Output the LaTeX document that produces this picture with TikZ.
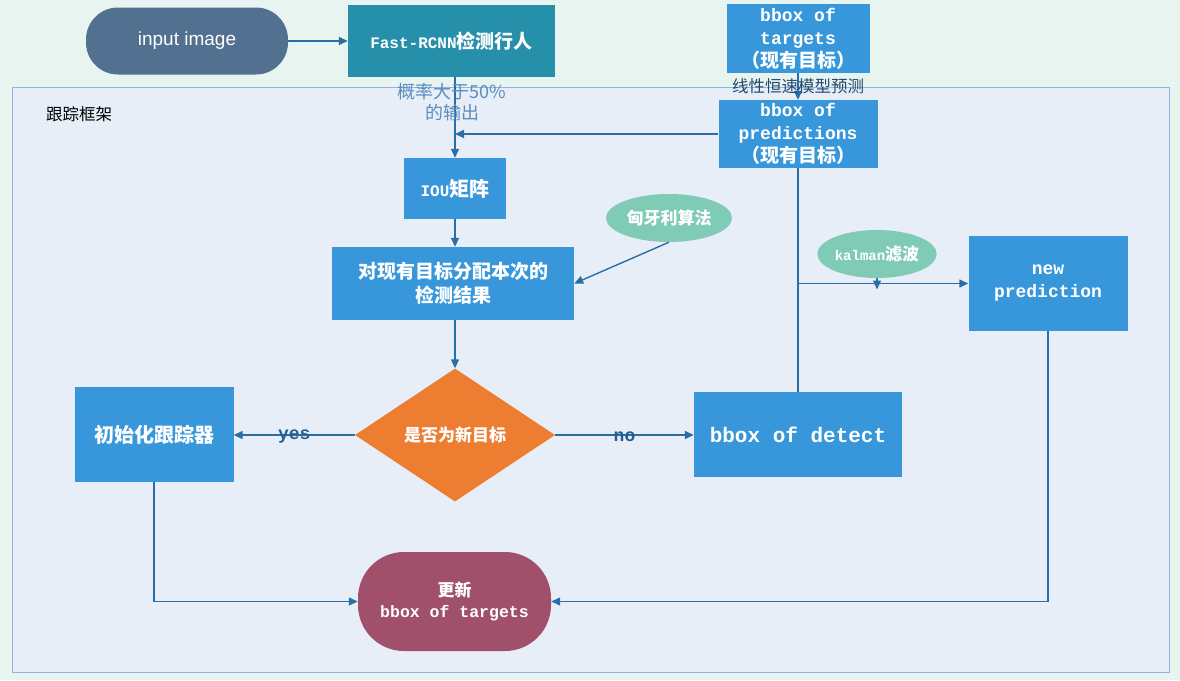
\documentclass[tikz,border=0pt]{standalone}
\usepackage{fontspec}
\newfontfamily\cjk{Noto Sans CJK SC}
\newfontfamily\mono{Liberation Mono}
\newfontfamily\sans{Liberation Sans}
\usetikzlibrary{shapes.geometric, arrows.meta, positioning}

\definecolor{outerbg}{HTML}{E8F4F0}
\definecolor{innerbg}{HTML}{E8EEF8}
\definecolor{framec}{HTML}{8DB6E0}
\definecolor{linec}{HTML}{2A6EA6}
\definecolor{boxblue}{HTML}{3797DA}
\definecolor{fastc}{HTML}{268FAA}
\definecolor{inputc}{HTML}{527191}
\definecolor{bubblec}{HTML}{7FCBB5}
\definecolor{decidec}{HTML}{ED7D31}
\definecolor{updatec}{HTML}{A0506B}
\definecolor{labelblue}{HTML}{5A8DBE}
\definecolor{labeldark}{HTML}{24486E}
\definecolor{yesnoc}{HTML}{24608F}

\newcommand\sz[2]{\fontsize{#1}{#2}\selectfont}

\begin{document}
\begin{tikzpicture}[x=1pt, y=-1pt]

\useasboundingbox (0,0) rectangle (1180,680);

% background and frame

\fill [outerbg] (0,0) rectangle (1180,680);
\draw [framec, line width=1pt, fill=innerbg] (12,87) rectangle (1169,672);

\node [anchor=west, inner sep=0pt, font=\cjk\sz{16.5}{18}] (title) at (46,114) {跟踪框架};

% styles

\tikzstyle{box} = [rectangle, fill=boxblue, text=white, align=center, inner sep=0pt, font=\bfseries]
\tikzstyle{bubble} = [ellipse, fill=bubblec, text=white, inner sep=0pt, font=\bfseries]
\tikzstyle{flow} = [line width=1.4pt, draw=linec, -{Triangle[length=9pt, width=8pt]}]
\tikzstyle{plain flow} = [line width=1.4pt, draw=linec]
\tikzstyle{note} = [inner sep=0pt, align=center]

% nodes

\node [box, fill=inputc, minimum width=202pt, minimum height=67pt, rounded corners=32pt,
	font=\sans\sz{19}{22}] (input) at (187,41) {input image};

\node [box, fill=fastc, minimum width=207pt, minimum height=72pt] (fast) at (451.5,41)
	{{\mono\sz{16}{20}Fast-RCNN}{\cjk\sz{19}{22}检测行人}};

\node [box, minimum width=143pt, minimum height=69pt, font=\bfseries\mono\sz{18}{23}] (targets) at (798,38.5)
	{bbox of\\targets\\{\cjk\sz{19}{23}（现有目标）}};

\node [box, minimum width=159pt, minimum height=68pt, font=\bfseries\mono\sz{18}{23}] (pred) at (798,134)
	{bbox of\\predictions\\{\cjk\sz{19}{23}（现有目标）}};

\node [box, minimum width=102pt, minimum height=61pt] (iou) at (455,188.5)
	{{\mono\sz{16}{20}IOU}{\cjk\sz{20}{22}矩阵}};

\node [box, minimum width=242pt, minimum height=73pt, font=\bfseries\cjk\sz{19}{24}] (assign) at (453,283.5)
	{对现有目标分配本次的\\检测结果};

\node [bubble, minimum width=126pt, minimum height=48pt, font=\bfseries\cjk\sz{17}{20}] (hung) at (669,218) {匈牙利算法};

\node [bubble, minimum width=108pt, minimum height=48pt] (kalman) at (877,254)
	{{\mono\sz{14}{16}kalman}{\cjk\sz{17}{20}滤波}};

\node [box, minimum width=159pt, minimum height=95pt, font=\bfseries\mono\sz{18}{23}] (newpred) at (1048,283.5)
	{new\\prediction};

\node [diamond, fill=decidec, text=white, inner sep=0pt, minimum width=200pt, minimum height=133pt,
	font=\bfseries\cjk\sz{17}{20}] (decide) at (455,435) {是否为新目标};

\node [box, minimum width=159pt, minimum height=95pt, font=\bfseries\cjk\sz{20}{22}] (init) at (154,434.5) {初始化跟踪器};

\node [box, minimum width=208pt, minimum height=85pt, font=\bfseries\mono\sz{21}{25}] (detect) at (798,434.5) {bbox of detect};

\node [box, fill=updatec, minimum width=193pt, minimum height=99pt, rounded corners=46pt,
	font=\bfseries\sz{17}{21}] (update) at (454.5,601.5)
	{{\cjk\sz{17}{21}更新}\\{\mono\sz{16.5}{21}bbox of targets}};

% connectors

\draw [flow] (input) -- (fast);
\draw [flow] (iou.north |- fast.south) -- (iou.north);
\draw [flow] (pred.west) -- (pred.west -| iou.north);
\draw [flow] (targets) -- (pred);
\draw [flow] (iou.south) -- (iou.south |- assign.north);
\draw [flow] (hung.south) -- (assign.east);
\draw [flow] (assign.south -| decide.north) -- (decide.north);

\draw [flow] (decide.west) -- (decide.west -| init.east)
	node [midway, note, yshift=-2pt, text=yesnoc, font=\bfseries\mono\sz{18}{20}] {yes};
\draw [flow] (decide.east) -- (decide.east -| detect.west)
	node [midway, note, yshift=-2pt, text=yesnoc, font=\bfseries\mono\sz{18}{20}] {no};

\coordinate (split) at (detect.north |- newpred.west);
\draw [plain flow] (detect.north) -- (pred.south);
\draw [flow] (split) -- (newpred.west);
\draw [flow] (kalman.south) -- ([yshift=-6pt]kalman.south |- split);

\draw [flow] (newpred.south) |- (update.east);
\draw [flow] (init.south) |- (update.west);

% texts on the arrows

\node [note, text=labelblue, font=\cjk\sz{18}{21}] (prob) at (452,102) {概率大于50\%\\的输出};
\node [note, text=labeldark, font=\cjk\sz{16.5}{18}] (linear) at (798,86) {线性恒速模型预测};

\end{tikzpicture}
\end{document}
